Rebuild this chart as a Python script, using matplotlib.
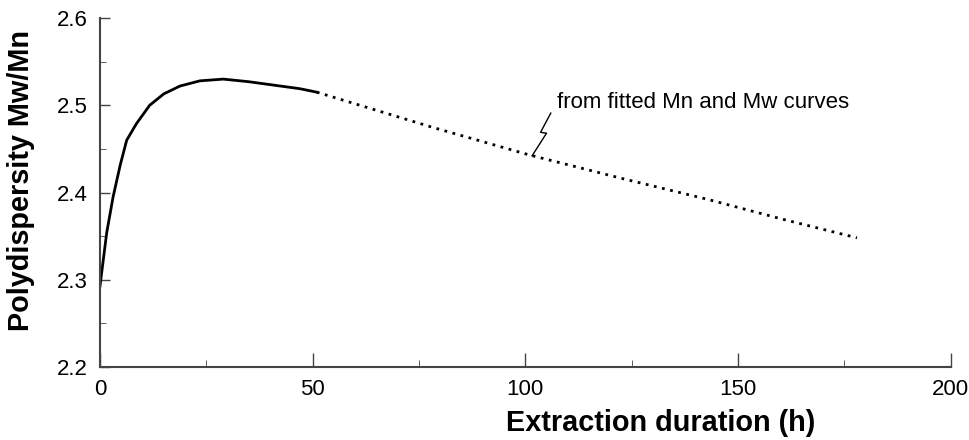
#!/usr/bin/env python3
"""Polydispersity Mw/Mn against extraction duration."""

import matplotlib
matplotlib.use('Agg')
import matplotlib.pyplot as plt
from matplotlib.ticker import MultipleLocator

plt.rcParams['font.family'] = ['Liberation Sans', 'DejaVu Sans']

# measured part (solid)
hours_measured = [0, 1.6, 3.1, 4.8, 6.3, 8.6, 11.7, 15, 18.8, 23.5, 29, 35, 41, 47, 51]
pd_measured = [2.292, 2.354, 2.395, 2.432, 2.460, 2.479, 2.500, 2.513, 2.522,
               2.528, 2.530, 2.527, 2.523, 2.519, 2.515]

# from fitted Mn and Mw curves (dotted)
hours_fitted = [51, 78, 101, 122, 143, 160, 178]
pd_fitted = [2.515, 2.475, 2.443, 2.417, 2.392, 2.370, 2.348]

annot_text = 'from fitted Mn and Mw curves'

fig = plt.figure(figsize=(9.7, 4.4), dpi=100)
ax = fig.add_axes([0.103, 0.166, 0.877, 0.793])

ax.plot(hours_measured, pd_measured, color='black', linewidth=2)
ax.plot(hours_fitted, pd_fitted, color='black', linewidth=2, linestyle=(0, (1, 2)))

# zigzag leader to the dotted curve
zig_x = [101.6, 105.0, 103.6, 106.0]
zig_y = [2.442, 2.468, 2.469, 2.491]
ax.plot(zig_x, zig_y, color='black', linewidth=1)
ax.text(107.4, 2.497, annot_text, fontsize=16, va='baseline', ha='left')

ax.set_xlim(0, 200)
ax.set_ylim(2.2, 2.6)
ax.xaxis.set_major_locator(MultipleLocator(50))
ax.xaxis.set_minor_locator(MultipleLocator(25))
ax.yaxis.set_major_locator(MultipleLocator(0.1))
ax.yaxis.set_minor_locator(MultipleLocator(0.05))
ax.yaxis.set_major_formatter(plt.FormatStrFormatter('%.1f'))

for side in ['top', 'right']:
    ax.spines[side].set_visible(False)
for side in ['left', 'bottom']:
    ax.spines[side].set_color('#444444')
    ax.spines[side].set_linewidth(1.5)

ax.tick_params(axis='both', which='major', direction='in', labelsize=16,
               color='#444444', width=1, pad=9)
ax.tick_params(axis='x', which='major', length=10)
ax.tick_params(axis='x', which='minor', direction='in', length=5, color='#444444')
ax.tick_params(axis='y', which='major', length=7)
ax.tick_params(axis='y', which='minor', direction='in', length=4, color='#444444')

ax.set_xlabel('Extraction duration (h)', fontsize=20.8, fontweight='bold')
ax.xaxis.set_label_coords(0.659, -0.12)
ax.set_ylabel('Polydispersity Mw/Mn', fontsize=20.8, fontweight='bold')
ax.yaxis.set_label_coords(-0.076, 0.534)

plt.savefig('out.png', dpi=100)
plt.close()
